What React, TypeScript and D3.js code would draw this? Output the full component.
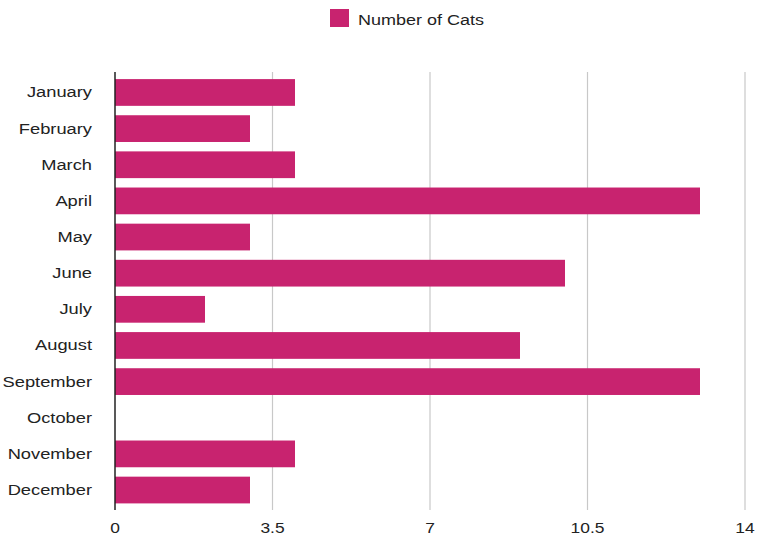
import React from "react";
import * as d3 from "d3";

const months = ["January","February","March","April","May","June","July","August","September","October","November","December"];
const cats = [4, 3, 4, 13, 3, 10, 2, 9, 13, 0, 4, 3];
const xTicks = [0, 3.5, 7, 10.5, 14];
const tickLabels = ["0", "3.5", "7", "10.5", "14"];
const seriesName = "Number of Cats";

const W = 760, H = 542;
const BAR = "#c8236f";
const TXT = "#222";
const FONT = "'Liberation Sans', Arial, Helvetica, sans-serif";
const SX = 1.22;

export default function App() {
  const x = d3.scaleLinear().domain([0, 14]).range([115, 745]);
  const y = d3.scaleBand<string>().domain(months).range([74.4, 508.1]).paddingInner(0.26).paddingOuter(0.13);
  const top = 72, bottom = 510;
  return (
    <svg width={W} height={H} style={{ position: "absolute", left: 0, top: 0, background: "#fff" }} fontFamily={FONT}>
      <rect x={0} y={0} width={W} height={H} fill="#fff" />
      {/* legend */}
      <rect x={330} y={9} width={19} height={18} fill={BAR} />
      <text transform={`translate(358,25) scale(1.2,1)`} fontSize={15} fill={TXT}>{seriesName}</text>
      {/* gridlines */}
      {xTicks.slice(1).map((t) => (
        <line key={t} x1={x(t)} x2={x(t)} y1={top} y2={bottom} stroke="#c8c8c8" strokeWidth={1.2} />
      ))}
      {/* bars */}
      {months.map((m, i) => (
        <rect key={m} x={x(0)} y={y(m)} width={x(cats[i]) - x(0)} height={y.bandwidth()} fill={BAR} />
      ))}
      {/* axis line */}
      <line x1={x(0)} x2={x(0)} y1={top} y2={bottom} stroke="#222" strokeWidth={1.5} />
      {/* month labels */}
      {months.map((m) => (
        <text key={m} transform={`translate(92,${(y(m) as number) + y.bandwidth() / 2 + 5}) scale(${SX},1)`} textAnchor="end" fontSize={15} fill={TXT}>{m}</text>
      ))}
      {/* tick labels */}
      {xTicks.map((t, i) => (
        <text key={t} transform={`translate(${x(t)},532.5) scale(1.2,1)`} textAnchor="middle" fontSize={14.5} fill={TXT}>{tickLabels[i]}</text>
      ))}
    </svg>
  );
}
